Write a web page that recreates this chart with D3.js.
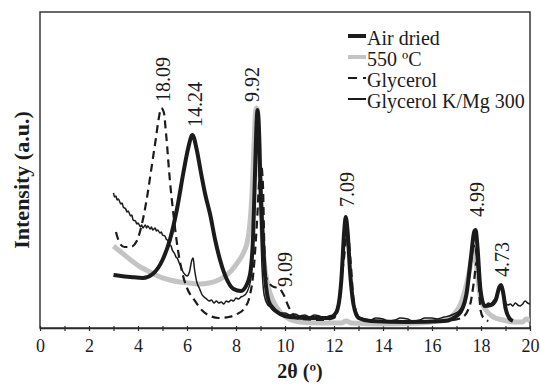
<!DOCTYPE html>
<html><head><meta charset="utf-8">
<script src="https://cdn.jsdelivr.net/npm/d3@7"></script>
<style>body{margin:0;background:#fff}svg{display:block}</style>
</head><body>
<svg id="c" width="541" height="388"></svg>
<script>
// ---- data (2θ in degrees, intensity in arbitrary units) ----
const xTicks = [0,1,2,3,4,5,6,7,8,9,10,11,12,13,14,15,16,17,18,19,20];
const seriesNames = ["Air dried", "550 ºC", "Glycerol", "Glycerol K/Mg 300"];

const airDried = [[3.0,53],[3.3,52],[3.7,51],[4.2,50],[4.6,54],[5.0,68],[5.3,88],[5.6,120],[5.85,155],[6.05,180],[6.22,193],[6.4,178],[6.55,158],[6.75,133],[6.95,113],[7.15,88],[7.35,68],[7.6,50],[7.9,39],[8.2,37],[8.45,44],[8.6,58],[8.7,93],[8.78,158],[8.85,210],[8.88,218],[8.93,203],[9.0,143],[9.1,88],[9.2,48],[9.32,28],[9.5,20],[9.8,14],[10.2,11],[11.0,10],[11.8,10],[12.1,16],[12.3,48],[12.42,98],[12.48,111],[12.55,98],[12.65,58],[12.8,23],[13.0,10],[13.5,7],[15.0,6],[16.5,7],[17.1,14],[17.4,33],[17.6,73],[17.72,96],[17.78,98],[17.85,83],[17.98,38],[18.15,22],[18.4,23],[18.6,28],[18.75,41],[18.82,43],[18.9,36],[19.0,20],[19.15,10],[19.3,7]];

const heated550 = [[3.0,82],[3.3,76],[3.7,68],[4.1,61],[4.5,56],[4.9,51],[5.3,48],[5.7,46],[6.1,45],[6.5,44],[6.9,45],[7.2,47],[7.5,51],[7.8,57],[8.05,65],[8.3,75],[8.45,85],[8.55,100],[8.65,133],[8.73,178],[8.8,216],[8.84,220],[8.9,208],[8.97,158],[9.05,103],[9.15,66],[9.3,43],[9.5,28],[9.8,16],[10.1,10],[10.6,6],[11.5,5],[12.3,5],[12.5,7],[12.7,5],[14.0,4],[15.5,5],[16.5,8],[16.9,14],[17.2,26],[17.4,43],[17.55,60],[17.65,73],[17.72,76],[17.8,66],[17.9,43],[18.0,28],[18.2,18],[18.5,11],[18.9,8],[19.3,6],[19.7,6],[19.85,9],[20.0,7]];

const glycerol = [[3.1,96],[3.25,85],[3.45,81],[3.7,81],[3.95,87],[4.15,103],[4.35,128],[4.55,160],[4.72,188],[4.85,210],[4.95,220],[5.05,216],[5.15,193],[5.3,148],[5.45,113],[5.6,83],[5.8,56],[6.0,40],[6.3,28],[6.6,18],[6.95,12],[7.3,10],[7.7,11],[8.05,14],[8.35,20],[8.55,31],[8.7,53],[8.85,103],[8.95,148],[9.03,162],[9.1,143],[9.15,88],[9.2,53],[9.35,45],[9.55,41],[9.75,40],[9.95,33],[10.15,21],[10.35,13],[10.6,9],[11.5,8],[12.0,10],[12.2,28],[12.4,68],[12.55,96],[12.68,66],[12.8,28],[13.0,12],[13.5,7],[15.0,6],[16.5,7],[17.2,10],[17.55,23],[17.72,48],[17.82,66],[17.9,48],[17.98,18],[18.1,10],[18.3,7]];

const glycerolKMg = [[3.0,135],[3.05,131],[3.1,132],[3.15,128],[3.2,129],[3.3,124],[3.35,125],[3.4,121],[3.5,119],[3.55,116],[3.6,117],[3.7,112],[3.75,113],[3.8,108],[3.9,107],[3.95,104],[4.0,105],[4.1,101],[4.15,103],[4.2,100],[4.3,103],[4.35,100],[4.4,102],[4.5,99],[4.55,101],[4.6,98],[4.7,100],[4.75,97],[4.8,98],[4.9,95],[4.95,96],[5.0,93],[5.1,92],[5.15,89],[5.2,88],[5.3,83],[5.35,82],[5.4,78],[5.5,74],[5.55,71],[5.6,70],[5.7,64],[5.75,62],[5.8,58],[5.9,54],[6.0,52],[6.1,56],[6.2,68],[6.25,70],[6.3,60],[6.4,46],[6.5,40],[6.55,37],[6.6,34],[6.7,31],[6.8,29],[6.9,27],[7.0,28],[7.1,25],[7.2,27],[7.3,25],[7.4,26],[7.5,24],[7.6,27],[7.7,26],[7.8,28],[7.9,27],[8.0,30],[8.1,29],[8.2,31],[8.3,32],[8.45,36],[8.6,48],[8.7,88],[8.78,158],[8.84,216],[8.9,210],[8.97,138],[9.05,68],[9.15,33],[9.3,23],[9.4,21],[9.5,18],[9.65,17],[9.8,15],[10.0,15],[10.2,13],[10.4,14],[10.6,12],[10.8,13],[11.0,11],[11.2,13],[11.4,12],[11.6,10],[11.8,12],[12.0,13],[12.1,16],[12.3,43],[12.42,88],[12.5,100],[12.58,83],[12.7,43],[12.85,18],[13.0,12],[13.1,10],[13.3,9],[13.5,8],[13.7,10],[14.0,9],[14.2,7],[14.5,8],[14.7,10],[15.0,9],[15.2,7],[15.5,8],[15.7,10],[16.0,10],[16.2,9],[16.5,11],[16.7,12],[16.9,14],[17.1,17],[17.2,20],[17.45,38],[17.62,68],[17.72,83],[17.8,73],[17.9,43],[18.0,28],[18.1,24],[18.2,23],[18.3,25],[18.4,24],[18.5,27],[18.6,30],[18.72,38],[18.8,40],[18.9,34],[19.0,26],[19.1,23],[19.2,24],[19.3,22],[19.4,25],[19.5,23],[19.6,22],[19.7,24],[19.8,27],[19.9,25],[20.0,24]];

const peakLabels = ["18.09","14.24","9.92","9.09","7.09","4.99","4.73"];
const peakLabelTheta = [5.04, 6.33, 8.64, 10.0, 12.52, 17.82, 18.84];
const peakLabelIntensity = [226, 201, 226, 41, 121, 111, 51];

// ---- layout ----
const svg = d3.select("#c");
const m = {l:40, r:11, t:12, b:60};
const W = 541, H = 388;
const x = d3.scaleLinear().domain([0,20]).range([m.l, W - m.r]);
const y = d3.scaleLinear().domain([0,316]).range([H - m.b, m.t]);
const ink = "#1b1b1b", grey = "#c4c4c4";
const FONT = '"Liberation Serif"';

// frame
svg.append("rect").attr("x", m.l).attr("y", m.t)
  .attr("width", W - m.l - m.r).attr("height", H - m.t - m.b)
  .attr("fill","none").attr("stroke","#2a2a2a").attr("stroke-width",1.4);

// x axis
const ax = svg.append("g").attr("transform", `translate(0,${H - m.b})`)
  .call(d3.axisBottom(x).tickValues(xTicks).tickSizeOuter(0)
    .tickFormat(d => d % 2 === 0 ? d : ""));
ax.select(".domain").attr("stroke","#2a2a2a").attr("stroke-width",1.4);
ax.selectAll(".tick line").attr("y1",-2).attr("y2",3).attr("stroke","#2a2a2a").attr("stroke-width",1.2);
ax.selectAll(".tick text").attr("y",11).attr("dy","0.71em")
  .style("font-family",FONT).style("font-size","18px").attr("fill",ink);

// axis titles
svg.append("text").attr("x",300).attr("y",378).attr("text-anchor","middle")
  .style("font-family",FONT).style("font-weight","bold").style("font-size","20px").attr("fill",ink)
  .text("2θ (º)");
svg.append("text").attr("transform","translate(29,180) rotate(-90)").attr("text-anchor","middle")
  .style("font-family",FONT).style("font-weight","bold").style("font-size","22px").attr("fill",ink)
  .text("Intensity (a.u.)");

// lines
const line = d3.line().x(d => x(d[0])).y(d => y(d[1])).curve(d3.curveMonotoneX);
svg.append("clipPath").attr("id","pc").append("rect")
  .attr("x", m.l).attr("y", m.t).attr("width", W - m.l - m.r).attr("height", H - m.t - m.b);
const g = svg.append("g").attr("clip-path","url(#pc)");
const styles = [
  {data: heated550, stroke: grey, w: 5, dash: null},
  {data: airDried, stroke: ink, w: 4, dash: null},
  {data: glycerol, stroke: ink, w: 2.2, dash: "8,5"},
  {data: glycerolKMg, stroke: ink, w: 1.5, dash: null}
];
styles.forEach(s => {
  g.append("path").attr("d", line(s.data)).attr("fill","none")
    .attr("stroke", s.stroke).attr("stroke-width", s.w)
    .attr("stroke-linejoin","round")
    .attr("stroke-dasharray", s.dash);
});

// peak labels
peakLabels.forEach((t,i) => {
  svg.append("text")
    .attr("transform", `translate(${x(peakLabelTheta[i])},${y(peakLabelIntensity[i])}) rotate(-90)`)
    .attr("dominant-baseline","central")
    .style("font-family",FONT).style("font-size","20px").attr("fill",ink).text(t);
});

// legend
const legend = [
  {name: seriesNames[0], stroke: ink, w: 4, dash: null},
  {name: seriesNames[1], stroke: grey, w: 4, dash: null},
  {name: seriesNames[2], stroke: ink, w: 2.2, dash: "9,6"},
  {name: seriesNames[3], stroke: ink, w: 2, dash: null}
];
legend.forEach((d,i) => {
  const by = 45 + i * 21;
  svg.append("line").attr("x1",348).attr("x2",366).attr("y1",by-9).attr("y2",by-9)
    .attr("stroke",d.stroke).attr("stroke-width",d.w).attr("stroke-dasharray",d.dash);
  svg.append("text").attr("x",367).attr("y",by)
    .style("font-family",FONT).style("font-size","20px").attr("fill",ink).text(d.name);
});
</script>
</body></html>
